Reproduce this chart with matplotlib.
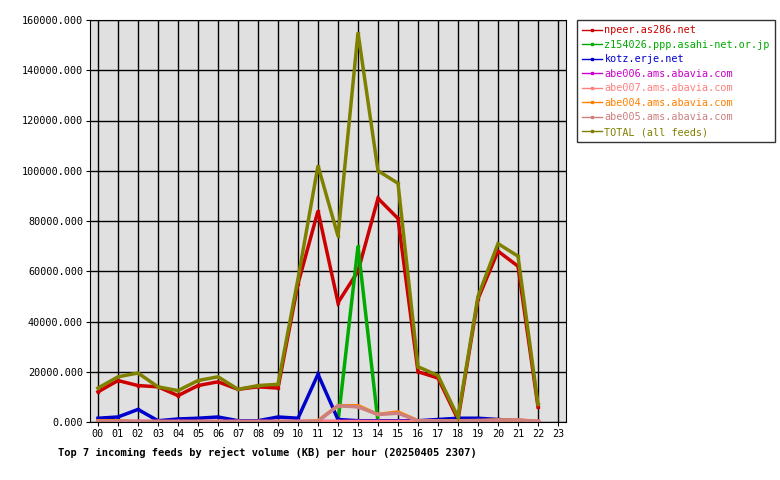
import matplotlib.pyplot as plt
import numpy as np

hours = list(range(23))
hour_labels = ['%02d' % h for h in range(24)]

npeer = [12000, 16500, 14500, 14000, 10500, 14500, 16000, 13000, 14000, 13500, 55000, 84000,
         47500, 60000, 89000, 81000, 20000, 17500, 1000, 49000, 68000, 62000, 6000]
z154026 = [0, 0, 0, 0, 0, 0, 0, 0, 0, 0, 0, 0, 0, 70000, 0, 0, 0, 0, 0, 0, 0, 0, 0]
kotz = [1500, 2000, 5000, 500, 1200, 1500, 2000, 500, 500, 2000, 1500, 19000,
        1000, 500, 500, 500, 500, 1000, 1500, 1500, 1000, 500, 0]
abe006 = [200] * 23
abe007 = [300] * 23
abe004 = [500, 500, 0, 0, 0, 0, 0, 0, 0, 0, 0, 500, 6500, 6500, 3000, 4000, 500, 500, 500, 500, 800, 800, 200]
abe005 = [300, 300, 200, 200, 200, 200, 200, 200, 200, 200, 200, 300, 6500, 6000, 3000, 3500, 500, 500, 500, 600, 800, 800, 200]
total = [13500, 18000, 19500, 14000, 12500, 16500, 18000, 13000, 14500, 15000, 57000, 102000,
         74000, 155000, 100000, 95000, 22000, 18500, 2000, 50000, 71000, 66000, 7000]

series = [
    ('npeer.as286.net', npeer, '#cc0000'),
    ('z154026.ppp.asahi-net.or.jp', z154026, '#00aa00'),
    ('kotz.erje.net', kotz, '#0000cc'),
    ('abe006.ams.abavia.com', abe006, '#cc00cc'),
    ('abe007.ams.abavia.com', abe007, '#ff8080'),
    ('abe004.ams.abavia.com', abe004, '#ff8000'),
    ('abe005.ams.abavia.com', abe005, '#cc8080'),
    ('TOTAL (all feeds)', total, '#808000'),
]

plt.rcParams['font.family'] = ['DejaVu Sans Mono']
fig = plt.figure(figsize=(7.8, 4.8), dpi=100)
ax = fig.add_axes([90 / 780, 58 / 480, 476 / 780, 402 / 480])
ax.set_facecolor('#e0e0e0')

for name, vals, col in series:
    ax.plot(hours, vals, color=col, linewidth=2.5, label=name,
            marker='s', markersize=2, solid_joinstyle='miter')

ax.set_xlim(-0.4, 23.4)
ax.set_ylim(0, 160000)
ax.set_xticks(range(24))
ax.set_xticklabels(hour_labels, fontsize=7.3)
yt = np.arange(0, 160001, 20000)
ax.set_yticks(yt)
ax.set_yticklabels(['%.3f' % v for v in yt], fontsize=7.3)
ax.grid(True, color='black', linewidth=1)
ax.set_axisbelow(True)
ax.tick_params(length=3, pad=2)

ax.text(-0.068, -0.075, 'Top 7 incoming feeds by reject volume (KB) per hour (20250405 2307)',
        transform=ax.transAxes, fontsize=7.5, fontweight='bold', ha='left', va='center')

leg = fig.legend(loc='upper left', bbox_to_anchor=(577 / 780, 1 - 20 / 480), fontsize=7.3,
                 frameon=True, fancybox=False, edgecolor='black', handlelength=2,
                 borderpad=0.5, labelspacing=0.45, handletextpad=0.2, borderaxespad=0)
leg.get_frame().set_linewidth(1)
for line in leg.get_lines():
    line.set_linewidth(1)
for txt, (name, vals, col) in zip(leg.get_texts(), series):
    txt.set_color(col)

fig.savefig('out.png', dpi=100)
